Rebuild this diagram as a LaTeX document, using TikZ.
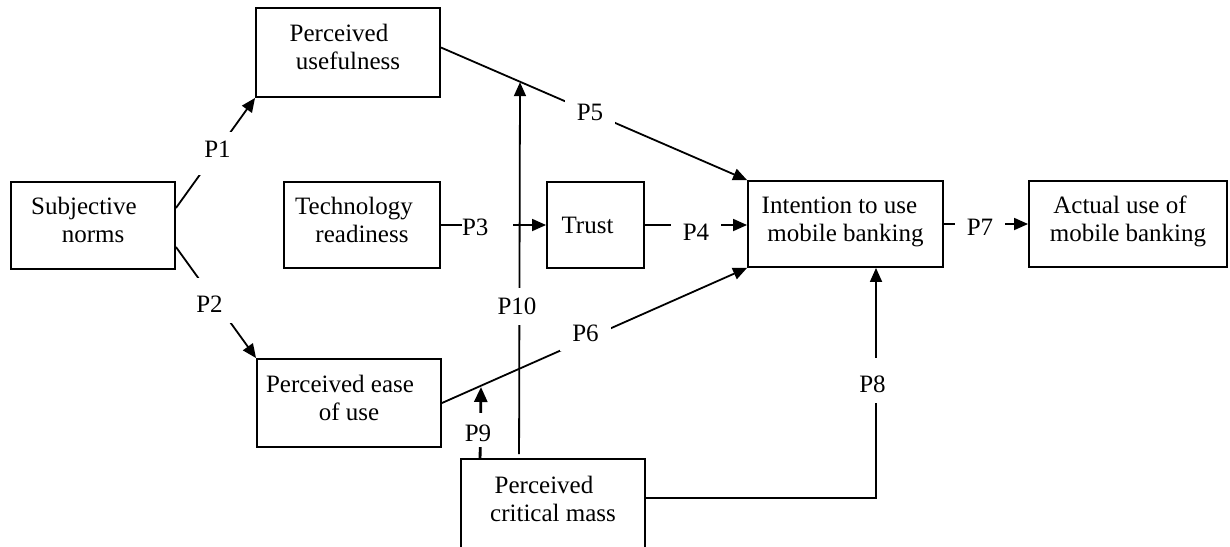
\documentclass[tikz,border=0pt]{standalone}
\usepackage{fontspec}
\setmainfont{Liberation Serif}
\usetikzlibrary{arrows.meta}
\begin{document}
\begin{tikzpicture}[x=1pt,y=-1pt,
  every node/.style={font=\fontsize{25pt}{28pt}\selectfont},
  box/.style={draw, line width=1.9pt, inner sep=0pt, align=center, text depth=10.5pt},
  conn/.style={line width=1.8pt},
  arr/.style={conn, -{Triangle[length=14pt,width=12pt]}},
  boldarr/.style={line width=2.8pt, -{Triangle[length=15pt,width=13pt]}},
  plab/.style={fill=white, anchor=base, inner xsep=12pt, inner ysep=0pt,
               text height=16.5pt, text depth=0pt}]
\useasboundingbox (0,0) rectangle (1230,546);
\clip (0,0) rectangle (1230,546);

% constructs
\node[box, minimum width=164pt, minimum height=87pt] (sn) at (93,225.5)
  {Subjective\hspace*{18pt}\\norms};
\node[box, minimum width=184pt, minimum height=89pt] (pu) at (348,52.5)
  {Perceived\hspace*{18pt}\\usefulness};
\node[box, minimum width=156pt, minimum height=86pt] (tr) at (362,225)
  {Technology\hspace*{16pt}\\readiness};
\node[box, text depth=0pt, minimum width=97pt, minimum height=86pt] (trust) at (595.5,225)
  {Trust\hspace*{16pt}};
\node[box, minimum width=195pt, minimum height=86pt] (iu) at (845.5,224)
  {Intention to use\hspace*{12pt}\\mobile banking};
\node[box, minimum width=198pt, minimum height=86pt] (au) at (1128,224)
  {Actual use of\hspace*{16pt}\\mobile banking};
\node[box, minimum width=184pt, minimum height=88pt] (pe) at (349,403)
  {Perceived ease\hspace*{18pt}\\of use};
% open-bottomed box running off the lower edge
\node[box, draw=none, minimum width=182pt, minimum height=89pt] (cm) at (553,504.5)
  {Perceived\hspace*{18pt}\\critical mass};
\draw[line width=1.9pt] ([yshift=-60pt]cm.south west) -- (cm.north west)
  -- (cm.north east) -- ([yshift=-60pt]cm.south east);

% free ends lying on the P5 and P6 paths
\coordinate (p10top) at (520,82.2);
\coordinate (p9top) at (481,387);

% paths
\draw[arr] ([yshift=17.5pt]sn.east) -- (pu.south west);
\draw[arr] ([yshift=-21.5pt]sn.east) -- (pe.north west);
\draw[arr] (tr.east) -- (trust.west);
\draw[arr] (trust.east) -- (trust.east -| iu.west);
\draw[arr] ([yshift=5pt]pu.east) -- (iu.north west);
\draw[arr] (pe.east) -- (iu.south west);
\draw[arr] (iu.east) -- (au.west);
\draw[arr] (cm.east |- 0,498) -| ([xshift=30.5pt]iu.south);
\draw[arr] ([xshift=58pt,yshift=5pt]cm.north west) -- (p10top);
\draw[boldarr] ([xshift=19pt]cm.north west) -- (p9top);

% path labels
\node[plab, text height=25pt, text depth=18pt] (l1) at (217.5,157) {P1};
\node[plab, text height=34pt, text depth=11pt] (l2) at (209.5,312) {P2};
\node[plab, inner xsep=0pt, text width=51pt, align=left] (l3) at (487.5,235) {P3};
\node[plab] (l4) at (696,240) {P4};
\node[plab, text height=20pt, text depth=6pt] (l5) at (590,120) {P5};
\node[plab, text depth=10pt] (l6) at (585.5,341) {P6};
\node[plab] (l7) at (980,235) {P7};
\node[plab, text height=34pt, text depth=11pt] (l8) at (872.5,392) {P8};
\node[plab, text height=28pt, text depth=6pt] (l9) at (478,441) {P9};
\node[plab, text height=26pt, text depth=11pt] (l10) at (517,314) {P10};
\end{tikzpicture}
\end{document}
